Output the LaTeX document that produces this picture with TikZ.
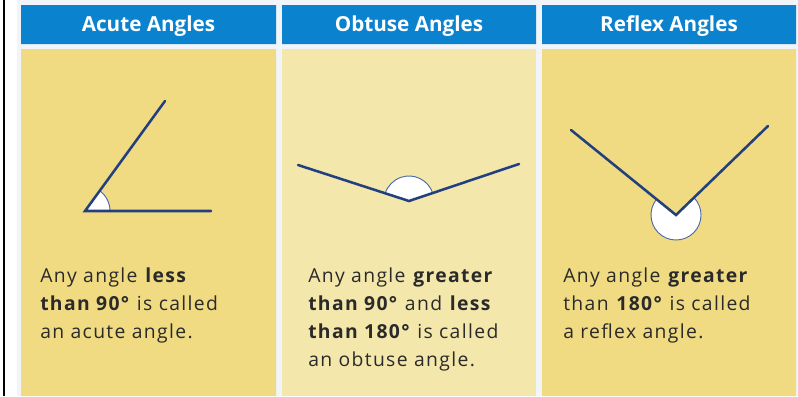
\documentclass[tikz,border=0pt]{standalone}
\usepackage{fontspec}
\setmainfont{Open Sans}
\newfontfamily\blurbfont[LetterSpace=7]{Open Sans}
\usetikzlibrary{calc}
\definecolor{headblue}{HTML}{0A82CE}
\definecolor{darkpad}{HTML}{F0DB82}
\definecolor{lightpad}{HTML}{F4E7AB}
\definecolor{edgegray}{HTML}{F1F4F9}
\definecolor{raynavy}{HTML}{22407F}
\definecolor{arcblue}{HTML}{4A6AA6}
\definecolor{inkgray}{HTML}{2A2A2A}
\tikzset{
    headtext/.style={text=white, inner sep=0, anchor=base, font=\bfseries\fontsize{15.5}{18}\selectfont},
    blurb/.style={text=inkgray, inner sep=0, anchor=base west, align=left, font=\blurbfont\fontsize{14.5}{21}\selectfont},
    ray/.style={raynavy, line width=1.9pt, line cap=round},
    wedge/.style={fill=white, draw=arcblue, line width=0.7pt}
}

\begin{document}
\begin{tikzpicture}[x=0.75pt, y=-0.75pt]
\useasboundingbox (0, 0) rectangle (798, 396);
\fill[white] (0, 0) rectangle (798, 396);
\fill[edgegray] (17, 0) rectangle (798, 396);
\fill[black] (3, 0) rectangle (5, 396);
\fill[headblue] (21, 5) rectangle (276, 44) (282, 5) rectangle (536, 44) (542, 5) rectangle (796, 44);
\fill[darkpad] (21, 49) rectangle (276, 396) (542, 49) rectangle (796, 396);
\fill[lightpad] (282, 49) rectangle (536, 396);
\node[headtext] (acutehead) at (148.5, 31.5) {Acute Angles};
\node[headtext] (obtusehead) at (409, 31.5) {Obtuse Angles};
\node[headtext] (reflexhead) at (669, 31.5) {Reflex Angles};
% acute
\coordinate (av) at (85, 211);
\coordinate (aend) at (211, 211);
\coordinate (aray) at (165, 101);
\draw[wedge] (av) -- ++(0:25) arc[start angle=0, end angle=-54, radius=25] -- cycle;
\draw[ray] (aray) -- (av) -- (aend);
% obtuse
\coordinate (ov) at (409, 201);
\coordinate (oleft) at (298, 165);
\coordinate (oright) at (519, 164);
\draw[wedge] (ov) -- ++(-18.6:25) arc[start angle=-18.6, end angle=-162, radius=25] -- cycle;
\draw[ray] (oleft) -- (ov) -- (oright);
% reflex
\coordinate (rv) at (676, 215);
\coordinate (rleft) at (571, 130);
\coordinate (rright) at (768, 126);
\draw[wedge] (rv) -- ++(-44:25) arc[start angle=-44, end angle=219, radius=25] -- cycle;
\draw[ray] (rleft) -- (rv) -- (rright);
% texts (base = last line)
\node[blurb] (acutetext) at (40, 338) {Any angle \textbf{less}\\\textbf{than 90°} is called\\an acute angle.};
\node[blurb] (obtusetext) at (308, 366) {Any angle \textbf{greater}\\\textbf{than 90°} and \textbf{less}\\\textbf{than 180°} is called\\an obtuse angle.};
\node[blurb] (reflextext) at (563, 338) {Any angle \textbf{greater}\\than \textbf{180°} is called\\a reflex angle.};
\end{tikzpicture}
\end{document}
